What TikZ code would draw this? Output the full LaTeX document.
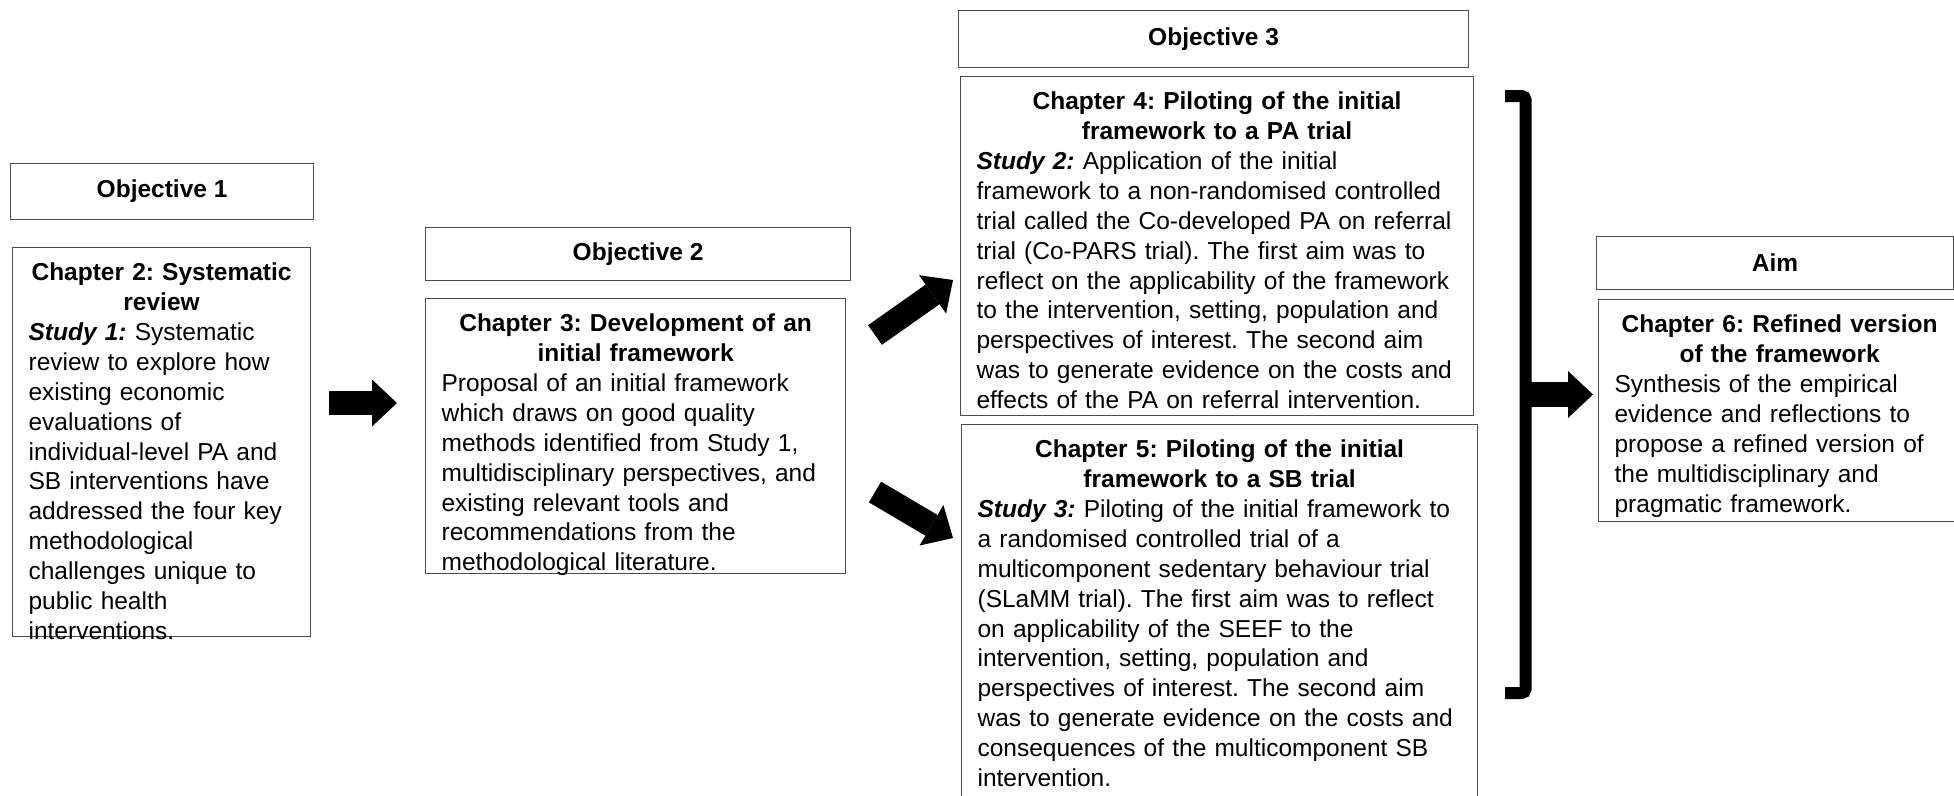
\documentclass[tikz,border=0pt]{standalone}
\usepackage{fontspec}
\setmainfont{Liberation Sans}
\usetikzlibrary{arrows.meta}
\usetikzlibrary{positioning}
\definecolor{mframe}{rgb}{0.3, 0.3, 0.3}
\frenchspacing

\begin{document}
\begin{tikzpicture}[x=1pt, y=-1pt,
    every node/.style={font=\fontsize{24.5}{29.9}\selectfont},
    objbox/.style={draw=mframe, line width=1.2pt, anchor=north west, inner sep=0pt,
      font=\fontsize{24.5}{29.9}\selectfont\bfseries},
    chapbox/.style={draw=mframe, line width=1.2pt, anchor=north west, inner xsep=16pt,
      inner ysep=15pt, text height=18pt, align=left},
    blockarrow/.style={line width=24pt, -{Triangle[length=25pt, width=47pt, line width=0pt]}},
    bracket/.style={line width=12pt, rounded corners=4pt}]
    \useasboundingbox (0,0) rectangle (1954,795);

    % objectives
    \node[objbox, minimum width=303pt, minimum height=56pt] (obj1) at (10,163) {Objective 1};
    \node[objbox, minimum width=425pt, minimum height=53pt] (obj2) at (425,227) {Objective 2};
    \node[objbox, minimum width=510pt, minimum height=57pt] (obj3) at (958,10) {Objective 3};
    \node[objbox, minimum width=357pt, minimum height=53pt] (aim) at (1596,236) {Aim};

    % chapters
    \node[chapbox, text width=266pt, text depth=341pt] (ch2) at (12,247) {%
      {\centering\bfseries Chapter 2: Systematic\\ review\par}
      \textbf{\textit{Study 1:}} Systematic\\ review to explore how\\ existing economic\\
      evaluations of\\ individual-level PA and\\ SB interventions have\\
      addressed the four key\\ methodological\\ challenges unique to\\
      public health\\ interventions.};
    \node[chapbox, text width=388pt, text depth=227pt] (ch3) at (425,298) {%
      {\centering\bfseries Chapter 3: Development of an\\ initial framework\par}
      Proposal of an initial framework\\ which draws on good quality\\
      methods identified from Study 1,\\ multidisciplinary perspectives, and\\
      existing relevant tools and\\ recommendations from the\\
      methodological literature.};
    \node[chapbox, text width=481pt, text depth=291pt] (ch4) at (960,76) {%
      {\centering\bfseries Chapter 4: Piloting of the initial\\ framework to a PA trial\par}
      \textbf{\textit{Study 2:}} Application of the initial\\
      framework to a non-randomised controlled\\
      trial called the Co-developed PA on referral\\
      trial (Co-PARS trial). The first aim was to\\
      reflect on the applicability of the framework\\
      to the intervention, setting, population and\\
      perspectives of interest. The second aim\\
      was to generate evidence on the costs and\\
      effects of the PA on referral intervention.};
    \node[chapbox, text width=484pt, text depth=328pt] (ch5) at (961,424) {%
      {\centering\bfseries Chapter 5: Piloting of the initial\\ framework to a SB trial\par}
      \textbf{\textit{Study 3:}} Piloting of the initial framework to\\
      a randomised controlled trial of a\\
      multicomponent sedentary behaviour trial\\
      (SLaMM trial). The first aim was to reflect\\
      on applicability of the SEEF to the\\
      intervention, setting, population and\\
      perspectives of interest. The second aim\\
      was to generate evidence on the costs and\\
      consequences of the multicomponent SB\\
      intervention.};
    \node[chapbox, text width=330pt, text depth=174pt] (ch6) at (1598,299) {%
      {\centering\bfseries Chapter 6: Refined version\\ of the framework\par}
      Synthesis of the empirical\\ evidence and reflections to\\
      propose a refined version of\\ the multidisciplinary and\\
      pragmatic framework.};

    % arrows
    \coordinate (go1) at (329,403);
    \coordinate (to1) at (397,403);
    \coordinate (go2) at (875,335);
    \coordinate (to2) at (953,280);
    \coordinate (go3) at (875,492);
    \coordinate (to3) at (953,538);
    \coordinate (brk) at (1525.5,394.5);
    \draw[blockarrow] (go1) -- (to1);
    \draw[blockarrow] (go2) -- (to2);
    \draw[blockarrow] (go3) -- (to3);

    % bracket
    \draw[bracket] (1505,96) -- (1525.5,96) -- (1525.5,693) -- (1505,693);
    \draw[blockarrow, line width=25pt, shorten >=5pt] (brk) -- (ch6.west |- brk);
\end{tikzpicture}
\end{document}
